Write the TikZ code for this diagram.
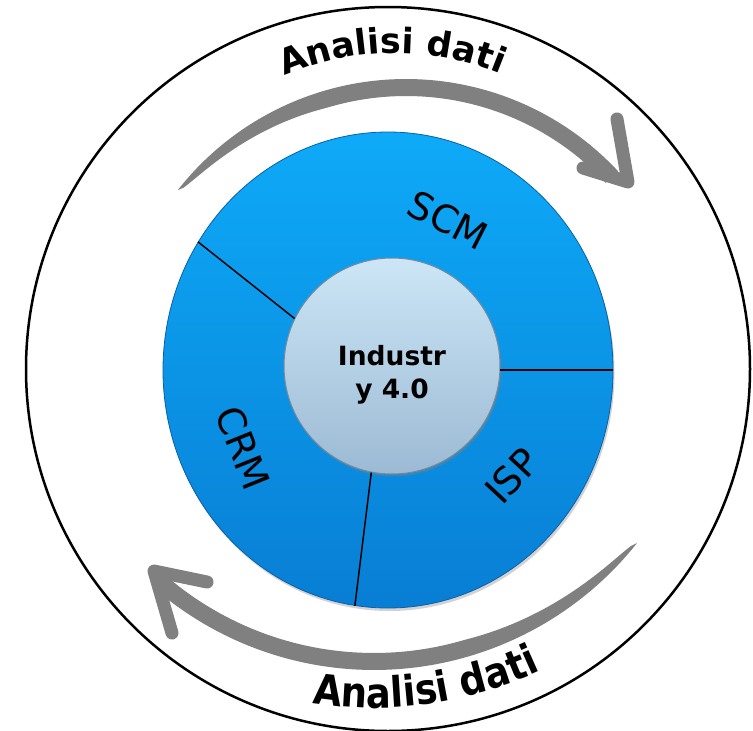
\documentclass[tikz,border=0pt]{standalone}
\usepackage{fontspec}
\setmainfont{DejaVu Sans}
\newfontfamily\narrowsans{DejaVu Sans}[FakeStretch=0.88]
\usetikzlibrary{shapes.geometric,shadows,decorations.text}
\definecolor{arrowgray}{RGB}{128,128,128}
\definecolor{disktop}{RGB}{14,170,248}
\definecolor{diskbot}{RGB}{8,126,212}
\definecolor{diskedge}{RGB}{10,96,168}
\definecolor{hubtop}{RGB}{204,230,246}
\definecolor{hubbot}{RGB}{156,186,212}
\definecolor{hubedge}{RGB}{118,138,158}
\begin{document}
\begin{tikzpicture}[x=1pt,y=-1pt,
  ringstyle/.style={circle, draw=black, line width=2.5pt, minimum size=724pt, inner sep=0pt},
  diskstyle/.style={ellipse, minimum width=450pt, minimum height=476pt, inner sep=0pt,
     top color=disktop, bottom color=diskbot, draw=diskedge, line width=0.8pt,
     drop shadow={shadow xshift=1.5pt, shadow yshift=-3pt, opacity=0.35}},
  hubstyle/.style={circle, minimum size=216pt, inner sep=0pt,
     top color=hubtop, bottom color=hubbot, draw=hubedge, line width=1pt,
     drop shadow={shadow xshift=1.5pt, shadow yshift=-2.5pt, opacity=0.4}},
  hubtextstyle/.style={font=\fontsize{26.5pt}{33pt}\selectfont\bfseries, align=center, inner sep=0pt},
  segtext/.style={font=\fontsize{38pt}{40pt}\selectfont, inner sep=0pt},
  divider/.style={line width=1.5pt, black},
  headline/.style={draw=arrowgray, line width=13pt, line cap=round, line join=round}]
\useasboundingbox (0,0) rectangle (753,731);
\fill[white] (0,0) rectangle (753,731);

% outer ring
\node[ringstyle] (ring) at (388,369) {};

% top curved arrow (shaft)
\fill[arrowgray] plot[domain=141.9:43, samples=90] ({406+290*cos(\x)},{369-290*sin(\x)})
  -- plot[domain=43:141.9, samples=90] ({406+(290-17*sqrt(min(1,(141.9-\x)/35)))*cos(\x)},{369-(290-17*sqrt(min(1,(141.9-\x)/35)))*sin(\x)})
  -- cycle;
\coordinate (toptip) at (628,182);
\coordinate (topbarbA) at (617,119);
\coordinate (topbarbB) at (583,168);
\draw[headline] (topbarbA) -- (toptip) -- (topbarbB);

% bottom curved arrow (shaft)
\fill[arrowgray] plot[domain=-38.5:-131, samples=90] ({374+336*cos(\x)},{334-336*sin(\x)})
  -- plot[domain=-131:-38.5, samples=90] ({374+(336-17*sqrt(min(1,(-38.5-\x)/35)))*cos(\x)},{334-(336-17*sqrt(min(1,(-38.5-\x)/35)))*sin(\x)})
  -- cycle;
\coordinate (bottip) at (154,571);
\coordinate (botbarbA) at (172,633);
\coordinate (botbarbB) at (207,582);
\draw[headline] (botbarbA) -- (bottip) -- (botbarbB);

% curved texts
\path[decorate, decoration={text along path, text align=center,
   text={|\fontsize{35pt}{40pt}\selectfont\bfseries|Analisi dati}}]
   plot[domain=130.1:51.1, samples=80] ({395+277*cos(\x)},{330-277*sin(\x)});
\path[decorate, decoration={text along path, text align=center,
   text={|\narrowsans\fontsize{42pt}{44pt}\selectfont\bfseries|Analisi dati}}]
   plot[domain=-117:-47, samples=80] ({375+388*cos(\x)},{320-388*sin(\x)});

% blue disk and hub
\node[diskstyle] (disk) at (388,370) {};
\node[hubstyle] (hub) at (392,366) {};
\node[hubtextstyle] (hubtext) at (392,375) {Industr\\y 4.0};

% dividers
\draw[divider] (hub.154.4) -- (disk.146.4);
\draw[divider] (hub.-2.6) -- (hub.-2.6 -| disk.east);
\draw[divider] (hub.-101.3) -- (disk.-98.7);

% segment labels
\node[segtext, rotate=-27] (scm) at (448,220) {SCM};
\node[segtext, rotate=-68] (crm) at (243,448) {CRM};
\node[segtext, rotate=47] (isp) at (512,476) {ISP};
\end{tikzpicture}
\end{document}
